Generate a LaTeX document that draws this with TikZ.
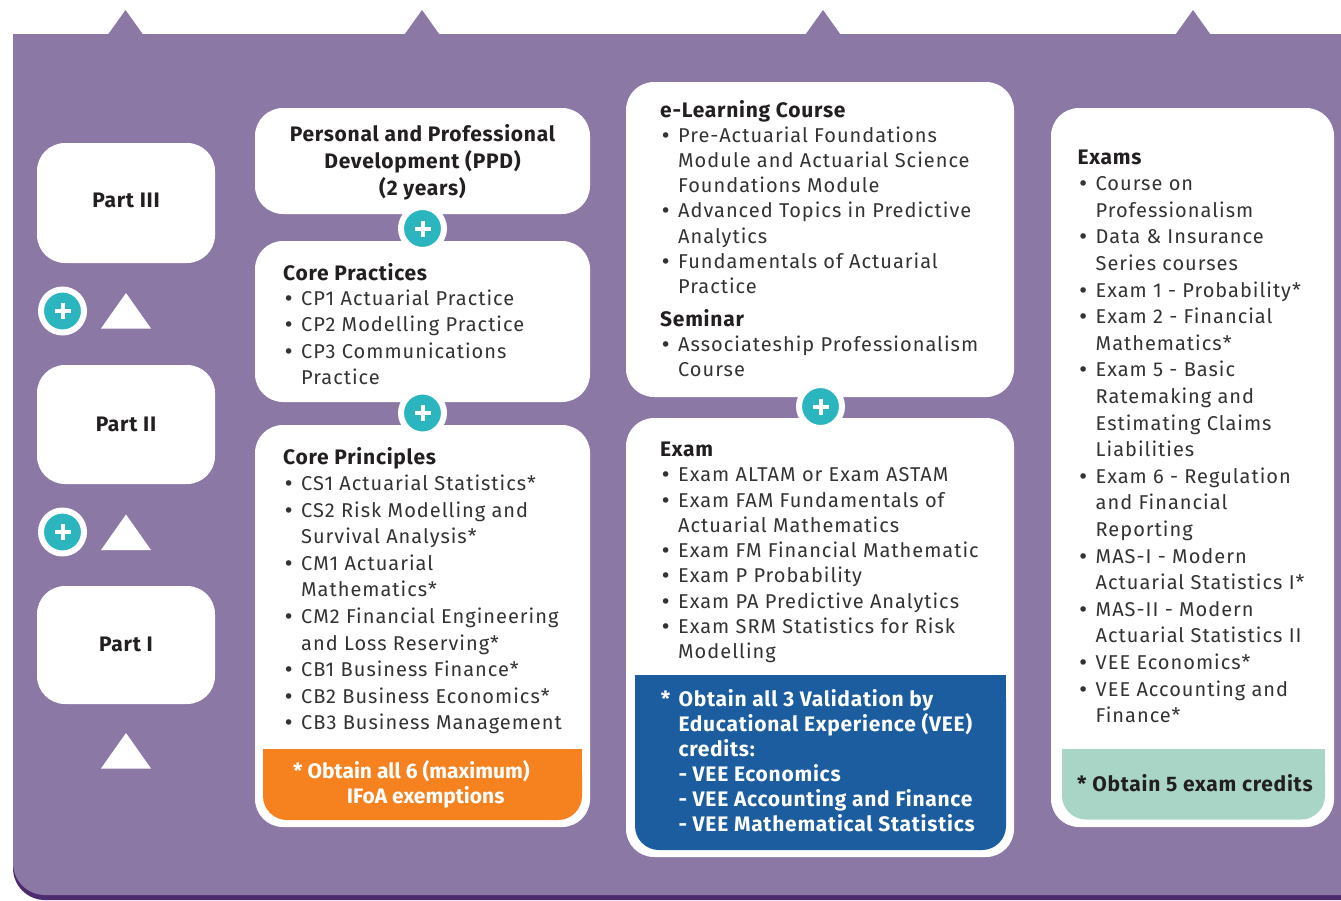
\documentclass[tikz,border=0pt]{standalone}
\usepackage{fontspec}
\setmainfont{Fira Sans}
\newfontfamily\bodyf{Fira Sans}[LetterSpace=5]
\newfontfamily\headf{Fira Sans}[LetterSpace=3.5]
\newfontfamily\dejavu{DejaVu Sans}
\definecolor{bgp}{HTML}{8B78A5}
\definecolor{bgd}{HTML}{4E2A6E}
\definecolor{tealc}{HTML}{2AB5BF}
\definecolor{orgc}{HTML}{F5821F}
\definecolor{bluc}{HTML}{1B5D9E}
\definecolor{grnc}{HTML}{A9D5C7}
\definecolor{inkc}{HTML}{231F20}
\definecolor{bodyc}{HTML}{333333}
\newcommand\bodysz{\bodyf\fontsize{20}{24}\selectfont}
\newcommand\headsz{\headf\bfseries\fontsize{21}{25}\selectfont}
\newcommand\tightsz{\bfseries\fontsize{21}{25}\selectfont}
\newcommand\bul{\makebox[18pt][l]{\dejavu\fontsize{19}{20}\selectfont •}}
\newcommand\ind{\hspace*{18pt}}
\tikzset{
  wbox/.style={fill=white, rounded corners=28, inner sep=0, draw=none},
  txt/.style={inner sep=0, font=\bodysz, text=bodyc, anchor=base west},
  hd/.style={inner sep=0, font=\headsz, text=inkc, anchor=base west},
  hdc/.style={inner sep=0, font=\headsz, text=inkc, anchor=base},
  plusc/.style={circle, fill=tealc, draw=white, line width=6, minimum size=43, inner sep=0},
  plusm/.style={white, line width=4},
  wtxt/.style={inner sep=0, font=\headsz, text=white, anchor=base west},
  otxt/.style={inner sep=0, font=\tightsz, text=white, anchor=base west},
}
\newcommand\txtlines[5]{%
  \foreach \t [count=\i] in {#5} {\node[txt] (#1\i) at (#2, {#3+(\i-1)*#4}) {\t};}%
}
\newcommand\plusat[2]{%
  \node[plusc] (#1) at (#2) {};
  \draw[plusm] (#1.center) ++(-8,0) -- ++(16,0);
  \draw[plusm] (#1.center) ++(0,-8) -- ++(0,16);
}
\begin{document}
\begin{tikzpicture}[x=1pt,y=-1pt]
\useasboundingbox (0,0) rectangle (1341,900);
\fill[white] (0,0) rectangle (1341,900);
% background
\fill[bgd, rounded corners=32] (13,40) rectangle (1420,900);
\fill[bgp, rounded corners=32] (13,34) rectangle (1420,895);
\fill[bgp] (13,34) rectangle (100,100);
\foreach \cx in {125.5,422,823,1193}
  \fill[bgp] (\cx-17.5,34.5) -- (\cx,10) -- (\cx+17.5,34.5) -- cycle;

% Part boxes
\node[wbox, minimum width=178, minimum height=120] (p3) at (126,203) {};
\node[wbox, minimum width=178, minimum height=119] (p2) at (126,424.5) {};
\node[wbox, minimum width=178, minimum height=118] (p1) at (126,645) {};
\node[hdc] (p3t) at (126,207) {Part III};
\node[hdc] (p2t) at (126,431) {Part II};
\node[hdc] (p1t) at (126,651) {Part I};
\plusat{lp1}{62.5,311}
\plusat{lp2}{62.5,532}
\fill[white] (101,328.5) -- (126,293) -- (151,328.5) -- cycle;
\fill[white] (101,550) -- (126,514.5) -- (151,550) -- cycle;
\fill[white] (101,768.5) -- (126,733) -- (151,768.5) -- cycle;

% Column 2
\node[wbox, minimum width=335, minimum height=106] (ppd) at (422.5,161) {};
\node[wbox, minimum width=335, minimum height=161] (cp) at (422.5,321.5) {};
\node[wbox, minimum width=335, minimum height=402] (cpr) at (422.5,626) {};
\plusat{pl2a}{422.5,228.5}
\plusat{pl2b}{422.5,413}
\node[hdc] (ppd1) at (422.5,141.7) {Personal and Professional};
\node[hdc] (ppd2) at (422.5,168.3) {Development (PPD)};
\node[hdc] (ppd3) at (422.5,195) {(2 years)};
\node[hd] (cph) at (283,280) {Core Practices};
\txtlines{cpl}{283}{305}{26.6}{\bul CP1 Actuarial Practice,\bul CP2 Modelling Practice,\bul CP3 Communications,\ind Practice}
\node[hd] (cprh) at (283,464) {Core Principles};
\txtlines{cprl}{283}{490.5}{26.6}{\bul CS1 Actuarial Statistics*,\bul CS2 Risk Modelling and,\ind Survival Analysis*,\bul CM1 Actuarial,\ind Mathematics*,\bul CM2 Financial Engineering,\ind and Loss Reserving*,\bul CB1 Business Finance*,\bul CB2 Business Economics*,\bul CB3 Business Management}
\fill[orgc, rounded corners=24] (263,749) rectangle (582,820);
\fill[orgc] (263,749) rectangle (582,790);
\node[otxt] (o1) at (293,778.3) {* Obtain all 6 (maximum)};
\node[otxt] (o2) at (346.7,803.3) {IFoA exemptions};

% Column 3
\node[wbox, minimum width=388, minimum height=315] (el) at (820,239.5) {};
\node[wbox, minimum width=388, minimum height=439] (ex) at (820,637.5) {};
\plusat{pl3}{820.5,406.5}
\node[hd] (elh) at (660,117.5) {e-Learning Course};
\txtlines{ell}{660}{142}{25.3}{\bul Pre-Actuarial Foundations,\ind Module and Actuarial Science,\ind Foundations Module,\bul Advanced Topics in Predictive,\ind Analytics,\bul Fundamentals of Actuarial,\ind Practice}
\node[hd] (smh) at (660,326) {Seminar};
\txtlines{sml}{660}{351}{25.3}{\bul Associateship Professionalism,\ind Course}
\node[hd] (exh) at (660,456.7) {Exam};
\txtlines{exl}{660}{481.7}{25.3}{\bul Exam ALTAM or Exam ASTAM,\bul Exam FAM Fundamentals of,\ind Actuarial Mathematics,\bul Exam FM Financial Mathematic,\bul Exam P Probability,\bul Exam PA Predictive Analytics,\bul Exam SRM Statistics for Risk,\ind Modelling}
\fill[bluc, rounded corners=24] (635,675) rectangle (1006,850);
\fill[bluc] (635,675) rectangle (1006,720);
\node[wtxt] (bstar) at (660.7,706.7) {*};
\foreach \t [count=\i] in {Obtain all 3 Validation by,Educational Experience (VEE),credits:,- VEE Economics,- VEE Accounting and Finance,- VEE Mathematical Statistics}
  \node[wtxt] (b\i) at (678.3,{706.7+(\i-1)*25}) {\t};

% Column 4
\node[wbox, minimum width=283, minimum height=719] (exs) at (1192.5,467.5) {};
\node[hd] (exsh) at (1077.5,164.3) {Exams};
\txtlines{exsl}{1077.5}{190.7}{26.6}{\bul Course on,\ind Professionalism,\bul Data \& Insurance,\ind Series courses,\bul Exam 1 - Probability*,\bul Exam 2 - Financial,\ind Mathematics*,\bul Exam 5 - Basic,\ind Ratemaking and,\ind Estimating Claims,\ind Liabilities,\bul Exam 6 - Regulation,\ind and Financial,\ind Reporting,\bul MAS-I - Modern,\ind Actuarial Statistics I*,\bul MAS-II - Modern,\ind Actuarial Statistics II,\bul VEE Economics*,\bul VEE Accounting and,\ind Finance*}
\fill[grnc, rounded corners=24] (1062,749) rectangle (1325,819.5);
\fill[grnc] (1062,749) rectangle (1325,790);
\node[hd] (gt) at (1077,791.7) {* Obtain 5 exam credits};
\end{tikzpicture}
\end{document}
